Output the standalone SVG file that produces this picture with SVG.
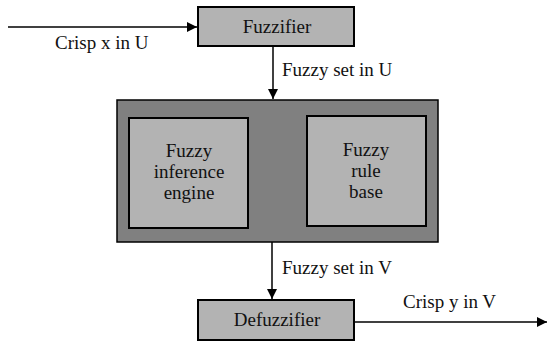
<svg xmlns="http://www.w3.org/2000/svg" width="547" height="343" viewBox="0 0 547 343">
<style>
text{font-family:'Liberation Serif','Times New Roman','DejaVu Serif',serif;font-size:19px;fill:#111}
.c{text-anchor:middle}
.box{fill:#b3b3b3;stroke:#000;stroke-width:2}
.line{stroke:#000;stroke-width:1.5;fill:none}
</style>
<defs>
<marker id="ah" viewBox="0 0 10 10" refX="10" refY="5" markerWidth="10" markerHeight="10" markerUnits="userSpaceOnUse" orient="auto">
<path d="M0,0 L10,5 L0,10 Z" fill="#000"/>
</marker>
</defs>
<rect width="547" height="343" fill="#fff"/>
<g id="connectors">
<line class="line" x1="8" y1="27" x2="197" y2="27" marker-end="url(#ah)"/>
<line class="line" x1="273" y1="46" x2="273" y2="99" marker-end="url(#ah)"/>
<line class="line" x1="272" y1="242" x2="272" y2="299" marker-end="url(#ah)"/>
<line class="line" x1="355" y1="322" x2="547" y2="322" marker-end="url(#ah)"/>
<text x="55" y="49">Crisp x in U</text>
<text x="282" y="76">Fuzzy set in U</text>
<text x="282" y="274">Fuzzy set in V</text>
<text x="403" y="308">Crisp y in V</text>
</g>
<g id="fuzzifier">
<rect class="box" x="198" y="7" width="156" height="39"/>
<text class="c" x="277" y="33">Fuzzifier</text>
</g>
<g id="system">
<rect x="117" y="100" width="321" height="142" fill="#808080" stroke="#000" stroke-width="1.5"/>
</g>
<g id="inference">
<rect class="box" x="129" y="118" width="119" height="110"/>
<text class="c" x="189" y="157">Fuzzy</text>
<text class="c" x="189" y="178">inference</text>
<text class="c" x="189" y="199">engine</text>
</g>
<g id="rulebase">
<rect class="box" x="307" y="116" width="119" height="110"/>
<text class="c" x="366" y="156">Fuzzy</text>
<text class="c" x="366" y="177">rule</text>
<text class="c" x="366" y="198">base</text>
</g>
<g id="defuzzifier">
<rect class="box" x="198" y="300" width="156" height="40"/>
<text class="c" x="277" y="326">Defuzzifier</text>
</g>
</svg>
